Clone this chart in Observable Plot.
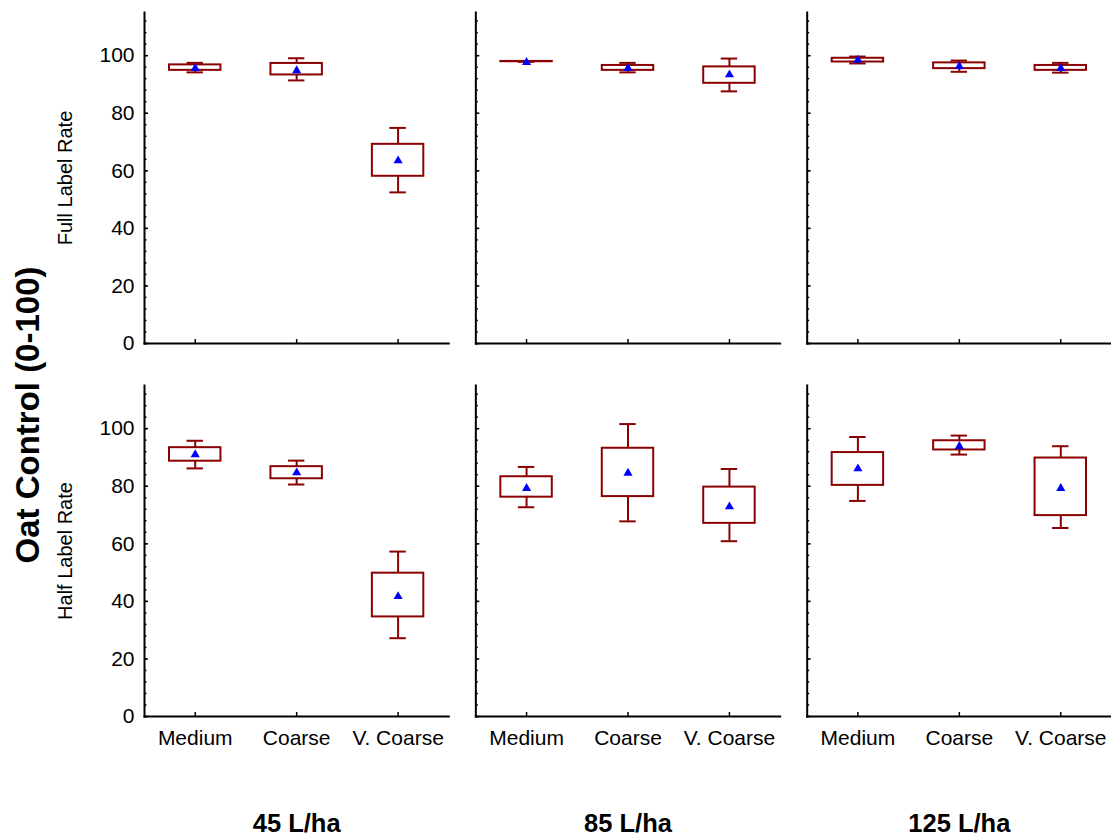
<!DOCTYPE html>
<html><head><meta charset="utf-8">
<script src="https://cdn.jsdelivr.net/npm/d3@7"></script>
<script src="https://cdn.jsdelivr.net/npm/@observablehq/plot@0.6"></script>
<style>
body{margin:0;background:#fff;}
#wrap{position:relative;width:1111px;height:836px;overflow:hidden;}
#wrap svg{position:absolute;left:0;top:0;}
#title{position:absolute;left:28px;top:415px;transform:translate(-50%,-50%) rotate(-90deg);font:bold 33px "Liberation Sans", Arial, sans-serif;white-space:nowrap;color:#000;z-index:2;}
</style></head><body>
<div id="wrap"><div id="title">Oat Control (0-100)</div></div>
<script>
const volumes = ["45 L/ha", "85 L/ha", "125 L/ha"];
const rates = ["Full Label Rate", "Half Label Rate"];
const sprays = ["Medium", "Coarse", "V. Coarse"];
const yMajorTicks = [0, 20, 40, 60, 80, 100];

// values ordered: 45 L/ha (Medium, Coarse, V. Coarse), 85 L/ha (...), 125 L/ha (...)
const fullMean    = [95.6, 94.8, 63.5, 97.7, 95.6, 93.4, 98.5, 96.3, 95.6];
const fullBoxHi   = [96.8, 97.3, 69.2, 98.0, 96.6, 96.1, 99.1, 97.5, 96.6];
const fullBoxLo   = [94.9, 93.3, 58.1, 97.9, 94.9, 90.4, 97.8, 95.5, 94.9];
const fullWhiskHi = [97.5, 99.1, 74.9, 98.0, 97.5, 99.0, 99.7, 98.3, 97.5];
const fullWhiskLo = [94.2, 91.4, 52.5, 97.9, 94.2, 87.6, 97.3, 94.4, 94.1];

const halfMean    = [91.0, 84.7, 41.7, 79.3, 84.6, 72.9, 86.1, 93.9, 79.3];
const halfBoxHi   = [93.4, 86.8, 49.8, 83.3, 93.2, 79.7, 91.7, 95.8, 89.8];
const halfBoxLo   = [88.7, 82.6, 34.6, 76.2, 76.4, 67.1, 80.3, 92.6, 69.8];
const halfWhiskHi = [95.8, 88.9, 57.3, 86.7, 101.6, 86.0, 97.1, 97.6, 93.9];
const halfWhiskLo = [86.2, 80.6, 27.2, 72.7, 67.8, 60.9, 74.9, 91.0, 65.5];

const stats = [
  [fullMean, fullBoxHi, fullBoxLo, fullWhiskHi, fullWhiskLo],
  [halfMean, halfBoxHi, halfBoxLo, halfWhiskHi, halfWhiskLo]
];
const rows = [];
rates.forEach((rate, ri) => {
  volumes.forEach((vol, vi) => {
    sprays.forEach((spray, si) => {
      const i = vi * 3 + si;
      const [m, bh, bl, wh, wl] = stats[ri];
      rows.push({rate, vol, spray, mean: m[i], bhi: bh[i], blo: bl[i], whi: wh[i], wlo: wl[i]});
    });
  });
});

const red = "#8b0000";
const font = "'Liberation Sans', Arial, sans-serif";
const fc = {fx: "vol", fy: "rate", x: "spray"};

const chart = Plot.plot({
  width: 1111,
  height: 836,
  marginLeft: 144,
  marginRight: 0,
  marginTop: 12,
  marginBottom: 120,
  style: {fontFamily: font, background: "transparent", color: "#000"},
  fx: {domain: volumes, paddingInner: 27 / 331, paddingOuter: 0, round: false, axis: null},
  fy: {domain: rates, paddingInner: 42 / 373, paddingOuter: 0, round: false, axis: null},
  x: {domain: sprays, padding: 0, round: false, axis: null, label: null},
  y: {domain: [0, 115], axis: null, label: null},
  marks: [
    Plot.frame({anchor: "left", stroke: "#000", strokeWidth: 2}),
    Plot.frame({anchor: "bottom", stroke: "#000", strokeWidth: 2}),
    Plot.axisY({ticks: d3.range(0, 116, 4), tickSize: 2.5, dx: 2.5, strokeWidth: 1.5, tickFormat: () => "", facetAnchor: null, label: null}),
    Plot.axisY({ticks: yMajorTicks, tickSize: 4, dx: 4, strokeWidth: 1.5, tickFormat: () => "", facetAnchor: null, label: null}),
    Plot.axisY({ticks: yMajorTicks, tickSize: 0, tickPadding: 10, fontSize: 21, label: null}),
    Plot.axisX({tickSize: 4, dy: -4, strokeWidth: 1.5, tickFormat: () => "", facetAnchor: null, label: null}),
    Plot.axisX({tickSize: 0, tickPadding: 14, fontSize: 21, label: null}),
    Plot.ruleX(rows, {...fc, y1: "wlo", y2: "whi", stroke: red, strokeWidth: 2}),
    Plot.tickY(rows, {...fc, y: "whi", stroke: red, strokeWidth: 2, insetLeft: 42.5, insetRight: 42.5}),
    Plot.tickY(rows, {...fc, y: "wlo", stroke: red, strokeWidth: 2, insetLeft: 42.5, insetRight: 42.5}),
    Plot.barY(rows, {...fc, y1: "blo", y2: "bhi", fill: "white", stroke: red, strokeWidth: 2, insetLeft: 25, insetRight: 25}),
    Plot.dot(rows, {...fc, y: "mean", symbol: "triangle", r: 3.4, fill: "#0000ff", stroke: "none"}),
    Plot.text(rates, {fy: d => d, fx: () => volumes[0], text: d => d, frameAnchor: "left", textAnchor: "middle", lineAnchor: "middle", rotate: -90, dx: -79, fontSize: 20}),
    Plot.text(volumes, {fx: d => d, fy: () => rates[1], text: d => d, frameAnchor: "bottom", dy: 115, fontSize: 25.5, fontWeight: "bold"})
  ]
});
document.getElementById("wrap").appendChild(chart);
</script>
</body></html>
